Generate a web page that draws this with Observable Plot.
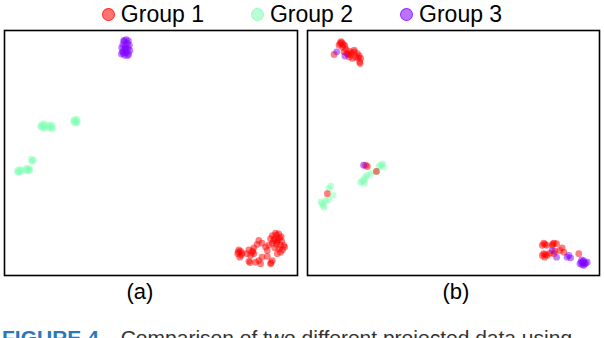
<!DOCTYPE html>
<html><head><meta charset="utf-8">
<script src="https://cdn.jsdelivr.net/npm/d3@7"></script>
<script src="https://cdn.jsdelivr.net/npm/@observablehq/plot@0.6"></script>
<style>
body{margin:0;background:#fff;}
#root{position:relative;width:604px;height:338px;overflow:hidden;font-family:"Liberation Sans",Arial,sans-serif;color:#000;}
#legend{position:absolute;left:0;top:1px;width:604px;height:26px;display:flex;justify-content:center;align-items:center;gap:47px;font-size:23px;line-height:26px;}
.item{display:flex;align-items:center;gap:6px;}
.sw{width:11px;height:11px;border-radius:50%;}
.panel{position:absolute;top:25px;}
.plabel{position:absolute;top:281px;width:60px;margin-left:-30px;text-align:center;font-size:22px;line-height:22px;}
#caption{position:absolute;left:2px;top:327px;font-size:21px;line-height:21px;white-space:nowrap;color:#333;}
#caption b{color:#2a78bb;margin-right:16px;}
</style></head><body><div id="root"></div>
<script>
const groups = ["Group 1", "Group 2", "Group 3"];
const groupColors = ["#ff0000", "#80ffb4", "#8000ff"];
const panelLabels = ["(a)", "(b)"];
const captionLead = "FIGURE 4.";
const captionText = "Comparison of two different projected data using";

// Panel (a)
const a_group1 = [
  [91.4,16.3],[92.5,17.3],[93.6,17.0],[94.4,15.9],[90.8,15.0],[92.2,15.0],[93.3,14.6],[94.6,14.0],
  [91.4,13.2],[92.8,12.9],[94.2,12.3],[95.3,12.3],[92.2,11.3],[93.6,10.9],[94.9,10.5],
  [86.8,14.3],[87.9,13.2],[86.2,12.7],[85.1,11.3],[89.1,11.6],[89.7,10.2],
  [80.0,10.5],[79.6,8.9],[80.3,7.5],[81.1,9.1],[83.4,10.5],[84.5,9.5],[84.0,8.2],[85.1,8.9],[82.8,8.9],
  [83.4,5.8],[85.7,5.4],[86.8,6.1],[87.4,4.8],[90.8,4.8],[91.4,6.1],[89.7,7.8],[93.1,8.9],[94.2,9.5],[87.9,7.5],
  [92.8,16.5],[93.0,13.8],[80.6,9.8],[84.8,10.0],[90.2,12.4],[95.6,11.6],[91.0,5.2],[83.8,5.3],
  [79.8,9.6],[93.9,15.2],[91.9,14.2],[80.8,8.3]
];
const a_group2 = [
  [12.6,61.5],[13.4,62.0],[13.9,61.2],[12.9,60.4],[13.6,60.1],[12.3,60.8],
  [15.4,61.5],[16.2,61.2],[15.9,60.2],[15.2,60.5],[16.4,60.0],
  [23.8,63.5],[24.6,63.8],[24.9,62.9],[24.1,62.4],[23.6,62.9],[24.5,62.2],
  [9.2,47.5],[9.8,47.1],[9.4,46.5],
  [4.6,43.0],[5.4,43.2],[5.0,42.2],[5.8,42.6],[4.4,42.3],
  [7.6,43.8],[8.4,43.5],[8.0,42.8],[7.3,43.0],[8.6,43.0]
];
const a_group3 = [
  [41.5,96.3],[42.3,95.8],[40.8,95.5],[41.9,94.8],[40.4,94.2],[42.6,94.0],[41.2,93.6],[40.0,93.0],
  [42.2,92.8],[41.0,92.2],[42.8,91.8],[40.3,91.5],[41.6,91.0],[39.9,90.4],[42.4,90.3],[41.0,89.9],
  [40.5,90.8],[42.0,89.8],[41.5,92.5],[40.7,96.0]
];

// Panel (b)
const b_group1 = [
  [11.4,95.4],[12.3,94.3],[10.8,94.0],[12.0,93.3],[13.1,92.4],[14.3,91.6],[13.5,90.6],[14.8,90.2],
  [16.0,91.3],[17.1,90.6],[17.7,89.6],[16.5,89.2],[15.4,88.6],[18.2,88.6],[18.0,86.5],[14.3,89.2],
  [12.5,91.3],[9.1,90.2],[11.2,94.7],[16.0,92.0],[13.9,90.2],[17.3,88.8],[11.8,95.0],[12.8,93.8],
  [15.0,91.0],[17.9,87.2],
  [19.9,45.0],[20.5,44.5],[23.6,42.5],[6.8,33.4],
  [80.9,13.2],[80.4,12.3],[81.9,12.3],[84.4,13.2],[83.8,12.3],[85.3,13.0],[87.2,11.3],[86.4,10.2],
  [87.8,9.5],[80.9,8.9],[82.1,8.2],[80.4,8.2],[83.0,9.1],[84.4,8.9],[84.7,9.9],[92.9,8.9],[81.2,7.5],
  [81.3,12.8],[84.0,12.9],[81.5,8.6]
];
const b_group2 = [
  [25.1,45.0],[25.7,45.6],[24.5,44.5],[26.0,44.3],[23.6,42.5],[21.7,41.6],
  [19.9,40.2],[20.5,40.9],[19.4,39.1],[18.2,38.1],[18.8,38.5],[19.4,37.7],
  [8.0,36.5],[7.4,35.4],[8.8,32.7],[6.3,30.6],[7.2,30.9],[5.1,29.3],[4.6,30.0],[5.7,27.9],[5.4,28.6]
];
const b_group3 = [
  [10.0,91.3],[12.8,89.6],[19.2,45.0],
  [83.8,10.2],[85.3,7.5],[89.5,8.2],[90.1,7.2],[88.9,7.5],
  [93.7,5.4],[94.6,6.1],[95.2,5.0],[94.1,4.5],[95.8,5.4],[93.3,4.8],[94.6,4.1],[94.4,5.4],[94.9,4.8],[93.9,6.4]
];

const root = document.getElementById("root");

// Legend
const legend = document.createElement("div");
legend.id = "legend";
groups.forEach((g, i) => {
  const it = document.createElement("div");
  it.className = "item";
  const sw = document.createElement("span");
  sw.className = "sw";
  const c = d3.color(groupColors[i]);
  const f = c.copy({opacity: 0.55});
  const s = c.copy({opacity: 0.7});
  sw.style.background = f.formatRgb();
  sw.style.border = "1px solid " + s.formatRgb();
  it.appendChild(sw);
  const t = document.createElement("span");
  t.textContent = g;
  it.appendChild(t);
  legend.appendChild(it);
});
root.appendChild(legend);

function rowsOf(sets) {
  // draw order: Group 2, Group 1, Group 3
  const order = [1, 0, 2];
  const rows = [];
  order.forEach(i => sets[i].forEach(([x, y]) => rows.push({x, y, group: groups[i]})));
  return rows;
}

const panels = [
  {sets: [a_group1, a_group2, a_group3], left: 0, ml: 4, mr: 5},
  {sets: [b_group1, b_group2, b_group3], left: 302, ml: 5, mr: 5}
];
const labelX = [140, 456];

panels.forEach((p, k) => {
  const chart = Plot.plot({
    width: 302,
    height: 252,
    marginLeft: p.ml,
    marginRight: p.mr,
    marginTop: 5,
    marginBottom: 2,
    x: {domain: [0, 100], axis: null},
    y: {domain: [0, 100], axis: null},
    color: {domain: groups, range: groupColors},
    style: {background: "transparent"},
    marks: [
      Plot.dot(rowsOf(p.sets), {x: "x", y: "y", fill: "group", r: 3.4, fillOpacity: 0.5, stroke: "none"}),
      Plot.frame({stroke: "#000", strokeWidth: 1.6})
    ]
  });
  const wrap = document.createElement("div");
  wrap.className = "panel";
  wrap.style.left = p.left + "px";
  wrap.appendChild(chart);
  root.appendChild(wrap);

  const lab = document.createElement("div");
  lab.className = "plabel";
  lab.style.left = labelX[k] + "px";
  lab.textContent = panelLabels[k];
  root.appendChild(lab);
});

const cap = document.createElement("div");
cap.id = "caption";
const b = document.createElement("b");
b.textContent = captionLead;
cap.appendChild(b);
cap.appendChild(document.createTextNode(captionText));
root.appendChild(cap);
</script>
</body></html>
